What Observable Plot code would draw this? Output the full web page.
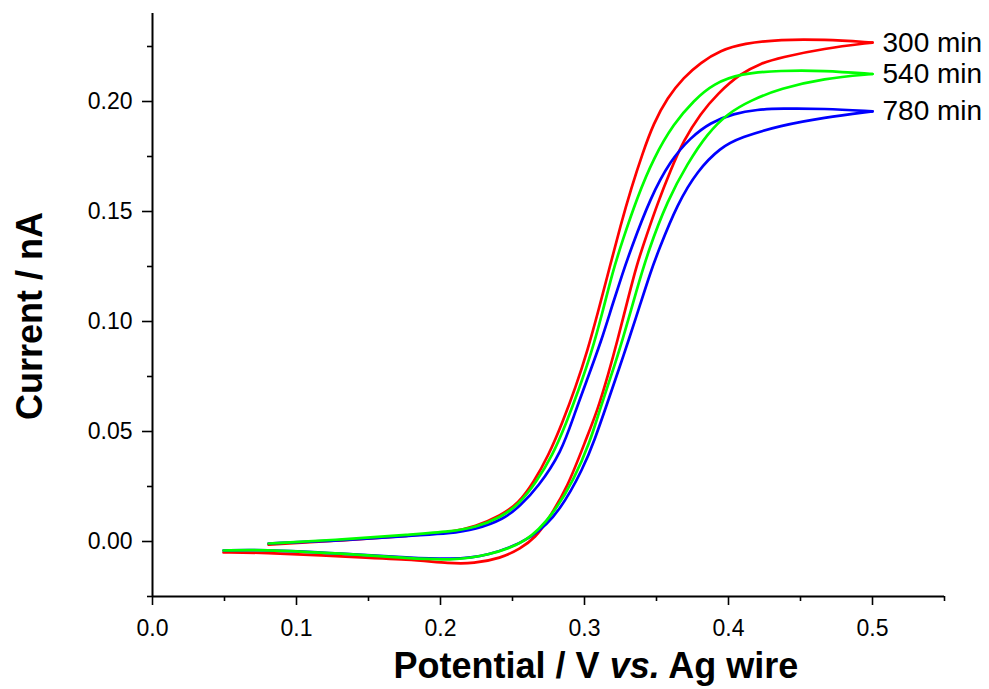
<!DOCTYPE html>
<html>
<head>
<meta charset="utf-8">
<script src="https://cdn.jsdelivr.net/npm/d3@7"></script>
<script src="https://cdn.jsdelivr.net/npm/@observablehq/plot@0.6"></script>
<style>
  html, body { margin: 0; padding: 0; background: #ffffff; }
  #chart svg { display: block; }
</style>
</head>
<body>
<div id="chart"></div>
<script>
// ---- Data: potential (V vs. Ag wire) and current (nA); forward scan to 0.5 V, then reverse scan ----
const potential300Fwd = [0.0806,0.1326,0.1792,0.2069,0.2243,0.2417,0.2542,0.2646,0.2750,0.2847,0.2938,0.3021,0.3097,0.3174,0.3250,0.3326,0.3403,0.3479,0.3576,0.3688,0.3806,0.3944,0.4104,0.4361,0.4660,0.5000];
const current300Fwd   = [-0.0014,0.0005,0.0027,0.0041,0.0068,0.0118,0.0173,0.0268,0.0391,0.0541,0.0700,0.0868,0.1050,0.1245,0.1436,0.1609,0.1764,0.1900,0.2018,0.2109,0.2177,0.2232,0.2264,0.2282,0.2282,0.2268];
const potential300Rev = [0.5000,0.4660,0.4361,0.4222,0.4083,0.3924,0.3806,0.3688,0.3597,0.3507,0.3431,0.3361,0.3299,0.3229,0.3167,0.3090,0.3007,0.2882,0.2743,0.2660,0.2556,0.2417,0.2229,0.2069,0.1792,0.1326,0.0750,0.0493];
const current300Rev   = [0.2268,0.2241,0.2200,0.2173,0.2127,0.2036,0.1945,0.1823,0.1686,0.1536,0.1391,0.1255,0.1095,0.0914,0.0764,0.0595,0.0459,0.0245,0.0095,0.0018,-0.0032,-0.0077,-0.0100,-0.0100,-0.0082,-0.0068,-0.0050,-0.0050];

const potential540Fwd = [0.0806,0.1326,0.1792,0.2069,0.2243,0.2417,0.2542,0.2660,0.2778,0.2875,0.2958,0.3049,0.3125,0.3194,0.3264,0.3366,0.3481,0.3620,0.3759,0.3898,0.4083,0.4361,0.4660,0.5000];
const current540Fwd   = [-0.0009,0.0009,0.0032,0.0045,0.0064,0.0109,0.0168,0.0264,0.0391,0.0541,0.0686,0.0859,0.1041,0.1223,0.1368,0.1564,0.1745,0.1900,0.2005,0.2082,0.2127,0.2141,0.2141,0.2125];
const potential540Rev = [0.5000,0.4660,0.4361,0.4153,0.3993,0.3854,0.3715,0.3576,0.3444,0.3361,0.3264,0.3181,0.3104,0.3042,0.2924,0.2785,0.2604,0.2326,0.2069,0.1792,0.1326,0.0750,0.0493];
const current540Rev   = [0.2125,0.2105,0.2059,0.2005,0.1945,0.1855,0.1718,0.1550,0.1323,0.1141,0.0914,0.0745,0.0595,0.0459,0.0277,0.0127,-0.0005,-0.0064,-0.0086,-0.0077,-0.0055,-0.0036,-0.0041];

const potential780Fwd = [0.0806,0.1326,0.1792,0.2069,0.2243,0.2438,0.2556,0.2674,0.2840,0.2931,0.3021,0.3118,0.3188,0.3264,0.3319,0.3458,0.3597,0.3736,0.3875,0.4035,0.4201,0.4361,0.4660,0.5000];
const current780Fwd   = [-0.0009,0.0005,0.0027,0.0036,0.0055,0.0100,0.0164,0.0245,0.0405,0.0582,0.0741,0.0914,0.1064,0.1218,0.1323,0.1564,0.1732,0.1836,0.1905,0.1945,0.1964,0.1968,0.1968,0.1955];
const potential780Rev = [0.5000,0.4660,0.4361,0.4083,0.3944,0.3785,0.3646,0.3514,0.3458,0.3389,0.3306,0.3243,0.3160,0.3069,0.2993,0.2833,0.2646,0.2326,0.2069,0.1792,0.1326,0.0750,0.0493];
const current780Rev   = [0.1955,0.1927,0.1891,0.1837,0.1791,0.1686,0.1536,0.1323,0.1223,0.1082,0.0914,0.0791,0.0632,0.0459,0.0336,0.0141,0.0014,-0.0068,-0.0082,-0.0073,-0.0055,-0.0036,-0.0041];

const seriesNames = ["300 min", "540 min", "780 min"];
const seriesColors = ["#ff0000", "#00ff00", "#0000ff"];

const xMajorTicks = [0, 0.1, 0.2, 0.3, 0.4, 0.5];
const xMinorTicks = [0.05, 0.15, 0.25, 0.35, 0.45, 0.55];
const yMajorTicks = [0, 0.05, 0.10, 0.15, 0.20];
const yMinorTicks = [-0.025, 0.025, 0.075, 0.125, 0.175, 0.225];

const xTitleParts = ["Potential / V ", "vs.", " Ag wire"];
const yTitle = "Current / nA";

// ---- Build tables ----
function toRows(name, branch, E, I) { return E.map((e, k) => ({series: name, branch, E: e, I: I[k]})); }
const rows300 = toRows(seriesNames[0], "fwd", potential300Fwd, current300Fwd).concat(toRows(seriesNames[0], "rev", potential300Rev, current300Rev));
const rows540 = toRows(seriesNames[1], "fwd", potential540Fwd, current540Fwd).concat(toRows(seriesNames[1], "rev", potential540Rev, current540Rev));
const rows780 = toRows(seriesNames[2], "fwd", potential780Fwd, current780Fwd).concat(toRows(seriesNames[2], "rev", potential780Rev, current780Rev));

// labels sit at the turning point (last forward point) of each curve
const endLabels = [
  {series: seriesNames[0], E: potential300Fwd[potential300Fwd.length - 1], I: current300Fwd[current300Fwd.length - 1]},
  {series: seriesNames[1], E: potential540Fwd[potential540Fwd.length - 1], I: current540Fwd[current540Fwd.length - 1]},
  {series: seriesNames[2], E: potential780Fwd[potential780Fwd.length - 1], I: current780Fwd[current780Fwd.length - 1]}
];

const lineOpts = (color) => ({x: "E", y: "I", z: "branch", stroke: color, strokeWidth: 2.7, curve: "basis"});

const plot = Plot.plot({
  width: 989,
  height: 689,
  marginLeft: 152,
  marginRight: 45,
  marginTop: 13,
  marginBottom: 93,
  style: {fontFamily: "'Liberation Sans', Arial, sans-serif", background: "#ffffff", color: "#000000", overflow: "visible"},
  x: {domain: [0, 0.55], label: null},
  y: {domain: [-0.025, 0.24], label: null},
  marks: [
    Plot.axisY({ticks: yMajorTicks, tickSize: 10, tickPadding: 10, tickFormat: d3.format(".2f"), fontSize: 23, strokeWidth: 1.6, label: null}),
    Plot.axisY({ticks: yMinorTicks, tickSize: 5, fill: "none", strokeWidth: 1.6, label: null}),
    Plot.axisX({ticks: xMajorTicks, tickSize: 9, tickPadding: 14, tickFormat: d3.format(".1f"), fontSize: 23, strokeWidth: 1.6, label: null}),
    Plot.axisX({ticks: xMinorTicks, tickSize: 5, fill: "none", strokeWidth: 1.6, label: null}),
    Plot.ruleX([0], {stroke: "#000", strokeWidth: 2}),
    Plot.ruleY([-0.025], {stroke: "#000", strokeWidth: 2}),
    Plot.line(rows300, lineOpts(seriesColors[0])),
    Plot.line(rows780, lineOpts(seriesColors[2])),
    Plot.line(rows540, lineOpts(seriesColors[1])),
    Plot.text(endLabels, {x: "E", y: "I", text: "series", dx: 10, textAnchor: "start", lineAnchor: "middle", fontSize: 28, fill: "#000"})
  ]
});

document.getElementById("chart").appendChild(plot);

// ---- Axis titles (bold, with italic "vs.") ----
const svg = d3.select(plot);
const xt = svg.append("text")
  .attr("x", 596).attr("y", 678)
  .attr("text-anchor", "middle")
  .attr("font-family", "'Liberation Sans', Arial, sans-serif")
  .attr("font-weight", "bold").attr("font-size", 36).attr("fill", "#000");
xt.append("tspan").text(xTitleParts[0]);
xt.append("tspan").attr("font-style", "italic").text(xTitleParts[1]);
xt.append("tspan").text(xTitleParts[2]);

svg.append("text")
  .attr("transform", "translate(42,316) rotate(-90)")
  .attr("text-anchor", "middle")
  .attr("font-family", "'Liberation Sans', Arial, sans-serif")
  .attr("font-weight", "bold").attr("font-size", 36).attr("fill", "#000")
  .text(yTitle);
</script>
</body>
</html>
